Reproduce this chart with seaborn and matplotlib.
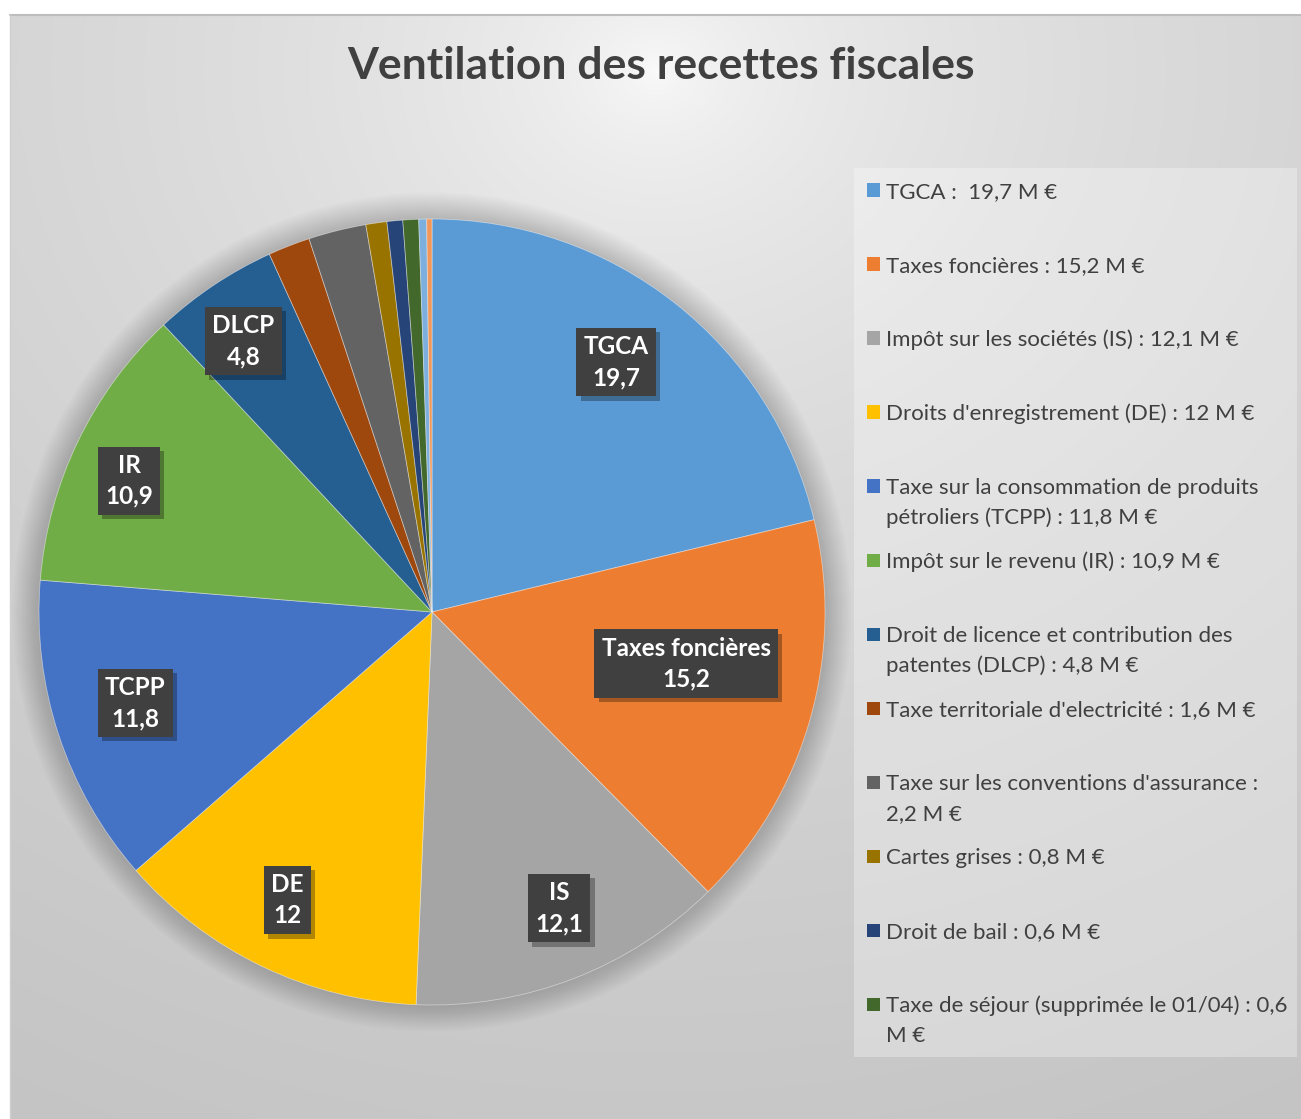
import numpy as np
import matplotlib
matplotlib.use("Agg")
import matplotlib.pyplot as plt
import matplotlib.patheffects as pe
from matplotlib.patches import Rectangle, Circle
from matplotlib.lines import Line2D
import seaborn as sns

# data
short_names = ["TGCA", "Taxes foncières", "IS", "DE", "TCPP", "IR", "DLCP",
               "", "", "", "", "", "", ""]
values = [19.7, 15.2, 12.1, 12.0, 11.8, 10.9, 4.8, 1.6, 2.2, 0.8, 0.6, 0.6, 0.3, 0.2]
legend_labels = [
    "TGCA :  19,7 M €",
    "Taxes foncières : 15,2 M €",
    "Impôt sur les sociétés (IS) : 12,1 M €",
    "Droits d'enregistrement (DE) : 12 M €",
    "Taxe sur la consommation de produits\npétroliers (TCPP) : 11,8 M €",
    "Impôt sur le revenu (IR) : 10,9 M €",
    "Droit de licence et contribution des\npatentes (DLCP) : 4,8 M €",
    "Taxe territoriale d'electricité : 1,6 M €",
    "Taxe sur les conventions d'assurance :\n2,2 M €",
    "Cartes grises : 0,8 M €",
    "Droit de bail : 0,6 M €",
    "Taxe de séjour (supprimée le 01/04) : 0,6\nM €",
]
office_colors = ["#5B9BD5", "#ED7D31", "#A5A5A5", "#FFC000", "#4472C4", "#70AD47",
                 "#255E91", "#9E480E", "#636363", "#997300", "#264478", "#43682B",
                 "#7CAFDD", "#F1975A"]

# label placement tweaks: radius fraction and angle offset (deg) from slice middle
label_dist = [0.79, 0.66, 0.82, 0.82, 0.79, 0.84, 0.84]
label_rot = [1.8, 4.4, 2.1, -1.0, -1.2, 2.4, 1.1]

sns.set_theme(style="white")
plt.rcParams["font.family"] = ["Lato", "DejaVu Sans"]
palette = sns.color_palette(office_colors)

W, H = 1301, 1119
fig = plt.figure(figsize=(W / 100, H / 100), dpi=100)
fig.patch.set_facecolor("white")


def fx(x):
    return x / W


def fy(y):
    return 1 - y / H


# chart area background: soft radial gradient
bg = fig.add_axes([fx(10), 0, 1 - fx(10), 1 - 15 / H])
gx, gy = np.meshgrid(np.linspace(0, 1, 400), np.linspace(0, 1, 400))
d = np.sqrt((gx - 0.5) ** 2 + (gy - 0.05) ** 2)
gray = (252 - 54 * np.sqrt(d)) / 255
bg.imshow(np.dstack([gray, gray, gray]), aspect="auto", extent=(0, 1, 1, 0))
bg.set_axis_off()
fig.add_artist(Line2D([fx(10), 1], [fy(15), fy(15)], color="#bdbdbd", lw=1.5))
fig.add_artist(Line2D([fx(10), fx(10)], [0, fy(15)], color="#cfcfcf", lw=1))

# title
fig.text(fx(661), fy(66), "Ventilation des recettes fiscales", ha="center", va="center",
         fontsize=32, fontweight="bold", color="#404040")

# pie with a soft halo
cx, cy, r = 432, 612, 393
ax = fig.add_axes([fx(cx - r), fy(cy + r), 2 * r / W, 2 * r / H])
for i in range(16):
    ax.add_patch(Circle((0.0, 0.0), 1.0 + 0.0045 * i, color="black", alpha=0.011,
                        lw=0, zorder=0, clip_on=False))
wedges, _ = ax.pie(values, colors=palette, startangle=90, counterclock=False,
                   wedgeprops=dict(edgecolor=(1, 1, 1, 0.45), linewidth=0.6))
ax.set_xlim(-1, 1)
ax.set_ylim(-1, 1)
ax.set_aspect("equal")

# data labels (dark boxes with a drop shadow)
for i, w in enumerate(wedges):
    if not short_names[i]:
        continue
    mid = np.deg2rad((w.theta1 + w.theta2) / 2 + label_rot[i])
    x, y = label_dist[i] * np.cos(mid), label_dist[i] * np.sin(mid)
    val = f"{values[i]:g}".replace(".", ",")
    t = ax.text(x, y, f"{short_names[i]}\n{val}", ha="center", va="center",
                fontsize=17.5, fontweight="bold", color="white", linespacing=1.42,
                bbox=dict(boxstyle="square,pad=0.3", fc="#404040", ec="none"))
    t.get_bbox_patch().set_path_effects(
        [pe.SimplePatchShadow(offset=(3, -3), shadow_rgbFace="black", alpha=0.3),
         pe.Normal()])

# legend box
fig.add_artist(Rectangle((fx(854), fy(1057)), fx(1297) - fx(854), fy(168) - fy(1057),
                         transform=fig.transFigure, facecolor="white", alpha=0.3,
                         edgecolor="none"))
for i, lab in enumerate(legend_labels):
    y0 = 190 + 74 * i
    fig.add_artist(Rectangle((fx(867), fy(y0 + 6.5)), 13 / W, 13 / H,
                             transform=fig.transFigure, facecolor=palette[i],
                             edgecolor="none"))
    for k, line in enumerate(lab.split("\n")):
        fig.text(fx(886), fy(y0 + 30 * k), line, ha="left", va="center_baseline",
                 fontsize=16, color="#404040")

fig.savefig("out.png", dpi=100)
